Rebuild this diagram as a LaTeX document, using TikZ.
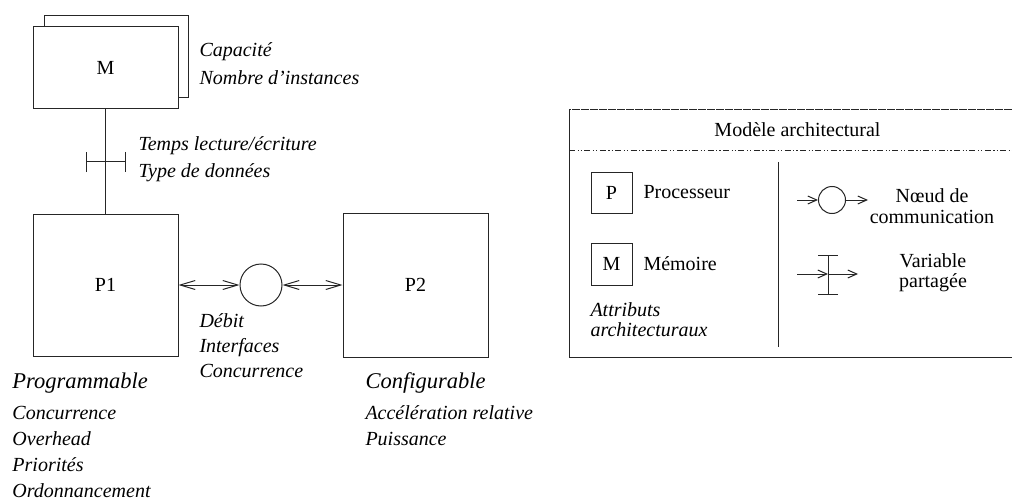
\documentclass[tikz,border=0pt]{standalone}
\usepackage{fontspec}
\setmainfont{Liberation Serif}
\usetikzlibrary{arrows.meta}
\newcommand{\attrfont}{\itshape\fontsize{20}{24}\selectfont}
\newcommand{\bigattrfont}{\itshape\fontsize{22.5}{26}\selectfont}
\newcommand{\lgfont}{\fontsize{20}{24}\selectfont}
\begin{document}
\begin{tikzpicture}[x=1pt,y=-1pt,
  line width=1pt,
  ln/.style={draw=black!85, line width=1pt},
  box/.style={draw=black!85, fill=white, line width=1pt, inner sep=0pt, font=\lgfont},
  attr/.style={font=\attrfont, anchor=base west, inner sep=0pt},
  bigattr/.style={font=\bigattrfont, anchor=base west, inner sep=0pt},
  lgtext/.style={font=\lgfont, inner sep=0pt},
  twobarb/.style={ln, {Straight Barb[length=15pt,width=9pt]}-{Straight Barb[length=15pt,width=9pt]}},
  onebarb/.style={ln, -{Straight Barb[length=9pt,width=8pt]}},
  tbar/.style={ln, {Bar[width=20pt]}-{Bar[width=20pt]}}
]
\useasboundingbox (0,0) rectangle (1012,500);

% ---------- Memory ----------
\node[box, minimum width=144pt, minimum height=82pt] (Mback) at (116,57) {};
\node[box, minimum width=145pt, minimum height=82pt] (M) at (105.5,68) {M};
\node[attr] (capA) at (199,57) {Capacité};
\node[attr] (capB) at (199,85) {Nombre d’instances};

% ---------- Processors ----------
\node[box, minimum width=145pt, minimum height=142pt] (P1) at (105.5,285) {P1};
\node[box, minimum width=145pt, minimum height=144pt] (P2) at (415.5,285) {P2};
\node[ln, circle, minimum size=42pt, inner sep=0pt] (comm) at (261,285) {};

% M -- P1 with shared variable
\draw[ln] (M.south) -- (P1.north);
\coordinate (svL) at (86,162);
\coordinate (svR) at (126,162);
\draw[tbar] (svL) -- (svR);
\node[attr] (tmpA) at (138,150) {Temps lecture/écriture};
\node[attr] (tmpB) at (138,177) {Type de données};

% communication links
\draw[twobarb] (P1.east) -- (comm.west);
\draw[twobarb] (comm.east) -- (P2.west);
\node[attr] (debA) at (199,327) {Débit};
\node[attr] (debB) at (199,352) {Interfaces};
\node[attr] (debC) at (199,377) {Concurrence};

% P1 attributes
\node[bigattr] (prog) at (12,388) {Programmable};
\node[attr] (prA) at (12,419) {Concurrence};
\node[attr] (prB) at (12,445) {Overhead};
\node[attr] (prC) at (12,471) {Priorités};
\node[attr] (prD) at (12,497) {Ordonnancement};

% P2 attributes
\node[bigattr] (conf) at (365,388) {Configurable};
\node[attr] (cfA) at (365,419) {Accélération relative};
\node[attr] (cfB) at (365,445) {Puissance};

% ---------- Legend ----------
\coordinate (lgTR) at (1012,110);
\coordinate (lgTL) at (569,110);
\coordinate (lgBL) at (569,357);
\coordinate (lgBR) at (1012,357);
\draw[ln, dash pattern=on 8pt off 1pt] (lgTR) -- (lgTL);
\draw[ln] (lgTL) -- (lgBL) -- (lgBR);
\coordinate (sepL) at (569,151);
\coordinate (sepR) at (1012,151);
\draw[ln, dash pattern=on 6pt off 2.5pt on 1.2pt off 2pt on 1.2pt off 2.5pt] (sepL) -- (sepR);
\node[lgtext, anchor=base] (lgTitle) at (797.5,137) {Modèle architectural};
\coordinate (vsT) at (778,162);
\coordinate (vsB) at (778,347);
\draw[ln] (vsT) -- (vsB);

\node[box, minimum width=41pt, minimum height=41pt] (lgP) at (611.5,192.5) {P};
\node[lgtext, anchor=base west] (lgPt) at (643,198) {Processeur};
\node[box, minimum width=41pt, minimum height=42pt] (lgM) at (611.5,264) {M};
\node[lgtext, anchor=base west] (lgMt) at (643,270) {Mémoire};
\node[attr] (lgAa) at (590,316) {Attributs};
\node[attr] (lgAb) at (590,336) {architecturaux};

\node[ln, circle, minimum size=27pt, inner sep=0pt] (lgC) at (832,200) {};
\coordinate (lgCin) at (797,200);
\coordinate (lgCout) at (868,200);
\draw[onebarb] (lgCin) -- (lgC.west);
\draw[onebarb] (lgC.east) -- (lgCout);
\node[lgtext, anchor=base] (lgCa) at (932,202) {Nœud de};
\node[lgtext, anchor=base] (lgCb) at (932,223) {communication};

\coordinate (lgVt) at (828,255);
\coordinate (lgVb) at (828,295);
\draw[tbar] (lgVt) -- (lgVb);
\coordinate (lgVin) at (797,274);
\coordinate (lgVmid) at (828,274);
\coordinate (lgVout) at (858,274);
\draw[onebarb] (lgVin) -- (lgVmid);
\draw[onebarb] (lgVmid) -- (lgVout);
\node[lgtext, anchor=base] (lgVa) at (933,267) {Variable};
\node[lgtext, anchor=base] (lgVb2) at (933,287) {partagée};
\end{tikzpicture}
\end{document}
